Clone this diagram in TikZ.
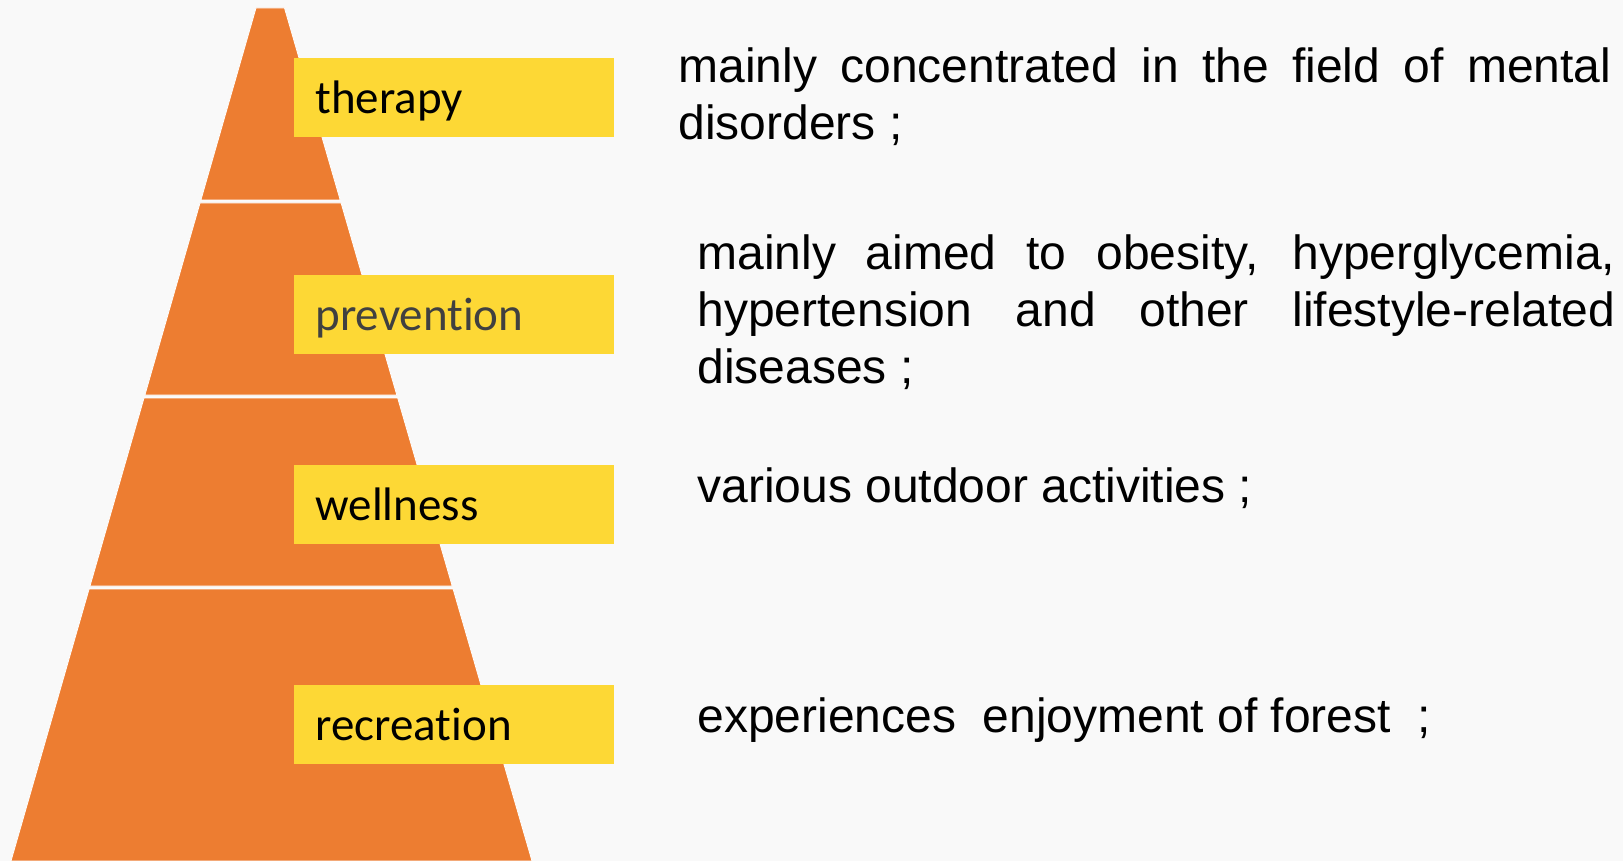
\documentclass[tikz,border=0pt]{standalone}
\usepackage{fontspec}
\setmainfont{Liberation Sans}
\newfontfamily\labfont[RawFeature={-liga;-clig;-calt;-dlig;-rlig}]{Carlito}
\definecolor{bg}{HTML}{F9F9F9}
\definecolor{pyr}{HTML}{ED7D31}
\definecolor{labyellow}{HTML}{FDD835}
\definecolor{labgray}{HTML}{404040}
\begin{document}
\begin{tikzpicture}[x=0.5pt,y=-0.5pt,
  seg/.style={fill=pyr, draw=white, line width=0.4pt},
  labbox/.style={fill=labyellow, anchor=north west, inner ysep=0pt, inner xsep=10.5pt,
    text width=138.75pt, align=left, text height=27.5pt, text depth=12pt,
    font=\labfont\fontsize{23.5}{28}\selectfont},
  desc/.style={anchor=base west, inner sep=0pt, font=\fontsize{24}{28.5}\selectfont}]
\fill[bg] (0,0) rectangle (1623,861);
\useasboundingbox (0,0) rectangle (1623,861);
% pyramid
\path[seg] (256,8) -- (284.5,8) -- (340.2,200) -- (200.9,200) -- cycle;
\path[seg] (200,203) -- (341.1,203) -- (396.8,395) -- (144.9,395) -- cycle;
\path[seg] (144,398) -- (397.7,398) -- (452.2,586) -- (90,586) -- cycle;
\path[seg] (89.1,589) -- (453.1,589) -- (532,861) -- (11,861) -- cycle;
% labels
\node[labbox] (therapy) at (294,58) {therapy};
\node[labbox, text=labgray] (prevention) at (294,275) {prevention};
\node[labbox] (wellness) at (294,465) {wellness};
\node[labbox] (recreation) at (294,685) {recreation};
% descriptions
\node[desc] (dtherapy) at (678,83) {\parbox[t]{466.5pt}{\makebox[466.5pt][s]{mainly concentrated in the field of mental}\\disorders ;}};
\node[desc] (dprevention) at (697,270) {\parbox[t]{459pt}{\makebox[459pt][s]{mainly aimed to obesity, hyperglycemia,}\\\makebox[459pt][s]{hypertension and other lifestyle-related}\\diseases ;}};
\node[desc] (dwellness) at (697,502) {various outdoor activities ;};
\node[desc] (drecreation) at (697,732) {experiences\ \ enjoyment of forest\ \ ;};
\end{tikzpicture}
\end{document}
